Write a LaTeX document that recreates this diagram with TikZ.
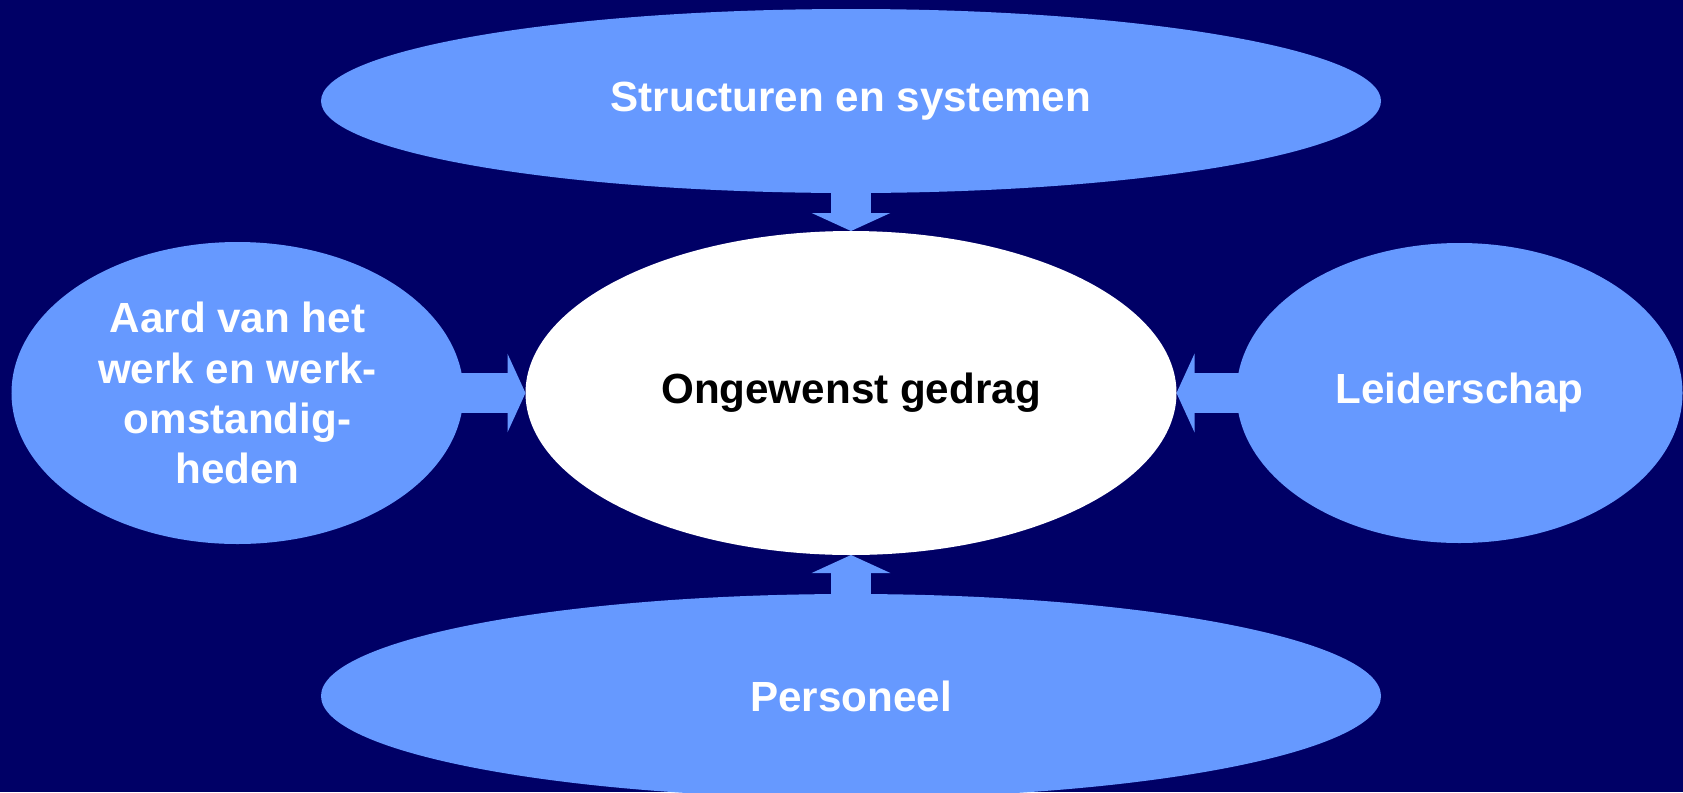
\documentclass[tikz,border=0pt]{standalone}
\usepackage{fontspec}
\setmainfont{Liberation Sans}
\usepackage{xcolor}
\usetikzlibrary{positioning, shapes.geometric, arrows.meta}
\definecolor{achtergrond}{HTML}{000066}
\definecolor{lichtblauw}{HTML}{6699FF}
\tikzstyle{oorzaak} = [ellipse, fill=lichtblauw, text=white, font={\fontsize{24}{28.5}\selectfont\bfseries}, align=center, inner sep=0pt, outer sep=0pt]
\tikzstyle{kern} = [ellipse, fill=white, text=black, font={\fontsize{24}{28.5}\selectfont\bfseries}, inner sep=0pt, outer sep=0pt, minimum width=13.02cm, minimum height=6.48cm]
\tikzstyle{blokpijl} = [draw=lichtblauw, line width=0.8cm, -{Triangle[width=1.56cm, length=0.36cm]}, shorten <=-0.1cm]
\begin{document}
\begin{tikzpicture}[node distance=0.76cm]

        % Background
        \path [use as bounding box, fill=achtergrond] (0,0) rectangle (33.66,-15.84);

        % Nodes
        \node (gedrag) [kern] at (17.02,-7.86) {Ongewenst gedrag};
        \node (structuren) [oorzaak, minimum width=21.2cm, minimum height=3.68cm, above=of gedrag] {Structuren en systemen};
        \node (personeel) [oorzaak, minimum width=21.2cm, minimum height=4.08cm, below=0.78cm of gedrag] {Personeel};
        \node (aard) [oorzaak, minimum width=9.04cm, minimum height=6.04cm, left=1.24cm of gedrag] {Aard van het\\werk en werk-\\omstandig-\\heden};
        \node (leiderschap) [oorzaak, minimum width=8.92cm, minimum height=6cm, right=1.2cm of gedrag] {Leiderschap};

        % Arrows
        \draw [blokpijl] (structuren.south) -- (gedrag.north);
        \draw [blokpijl] (personeel.north) -- (gedrag.south);
        \draw [blokpijl] (aard.east) -- (gedrag.west);
        \draw [blokpijl] (leiderschap.west) -- (gedrag.east);

\end{tikzpicture}
\end{document}
